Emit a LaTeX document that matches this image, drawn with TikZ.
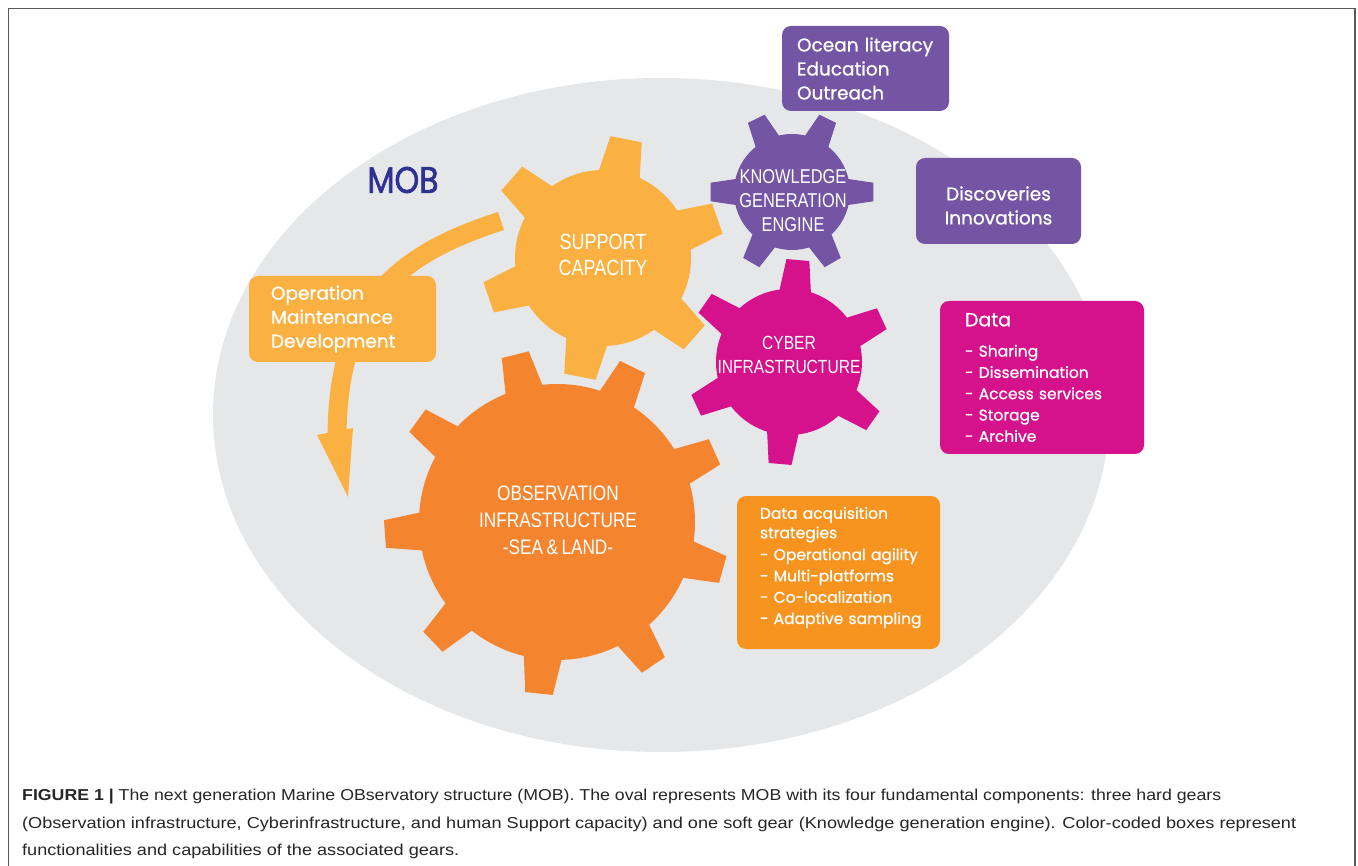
\documentclass[tikz,border=0pt]{standalone}
\usepackage{graphicx}
\usepackage{fontspec}
\setmainfont{Liberation Sans}
\newfontfamily\boxfont[FakeBold=0.8]{Poppins}
\newfontfamily\mobfont[FakeStretch=0.85, FakeBold=1.6]{Poppins}
\newfontfamily\gearfont[FakeStretch=0.82]{Liberation Sans}
\definecolor{ovalgray}{HTML}{E6E7E9}
\definecolor{mobblue}{HTML}{2E3192}
\definecolor{obsorange}{HTML}{F5842E}
\definecolor{suporange}{HTML}{FBB042}
\definecolor{cybmag}{HTML}{D5118B}
\definecolor{knowpurple}{HTML}{7455A4}
\definecolor{acqorange}{HTML}{F7941F}
\definecolor{framegray}{HTML}{5A5A5A}
% #1 cx, #2 cy, #3 inner radius, #4 outer radius, #5 tooth angles, #6 base half-angle, #7 tip half-angle, #8 colour
\newcommand{\drawgear}[8]{%
  \fill[#8] (#1,#2) circle[radius=#3];
  \foreach \ang in {#5} {
    \fill[#8] ({#1+(#3-5)*cos(\ang-#6)},{#2-(#3-5)*sin(\ang-#6)})
      -- ({#1+#4*cos(\ang-#7)},{#2-#4*sin(\ang-#7)})
      -- ({#1+#4*cos(\ang+#7)},{#2-#4*sin(\ang+#7)})
      -- ({#1+(#3-5)*cos(\ang+#6)},{#2-(#3-5)*sin(\ang+#6)}) -- cycle;
  }
}
\tikzset{
  infobox/.style={rounded corners=9pt, text=white, inner ysep=0pt, align=left},
  gearlabel/.style={text=white, align=center, inner sep=0pt},
  capline/.style={anchor=base west, inner sep=0pt, font=\fontsize{15.8}{19}\selectfont, text=black!85},
}
\begin{document}
\begin{tikzpicture}[x=1pt, y=-1pt]
\useasboundingbox (0,0) rectangle (1358,866);
\fill[white] (0,0) rectangle (1358,866);
% oval
\fill[ovalgray] (661,415) ellipse[x radius=448, y radius=337];
\node[text=mobblue, font=\mobfont\fontsize{37}{40}\selectfont, inner sep=0pt] (mob) at (403,180) {MOB};
% curved arrow of the support capacity
\coordinate (arrS) at (501,221);
\coordinate (arrE) at (337,436);
\draw[suporange, line width=19pt] (arrS) .. controls (395,255) and (338,305) .. (arrE);
\fill[suporange] (317,435) -- (353,428) -- (348,497) -- cycle;
\node[infobox, fill=suporange, text width=143pt, inner xsep=22pt, minimum height=86pt,
      font=\boxfont\fontsize{18.5}{24}\selectfont] (opbox) at (342.5,319)
  {Operation\\Maintenance\\Development};
% gears
\drawgear{557}{522}{138}{173}{104,64,24,-16,-56,-96,-136,-176,144}{8.5}{4.6}{obsorange}
\drawgear{603}{258}{88}{122}{79,19,-41,-101,-161,139}{15}{7.5}{suporange}
\drawgear{789}{362}{73}{103}{85,25,-35,-95,-155,145}{14}{6.4}{cybmag}
\drawgear{792}{192}{58}{82}{0,64,116,180,240,300}{15}{6.5}{knowpurple}
\node[gearlabel, font=\gearfont\fontsize{21}{27}\selectfont] (obsgear) at (558,520)
  {OBSERVATION\\INFRASTRUCTURE\\-SEA\,\&\,LAND-};
\node[gearlabel, font=\gearfont\fontsize{22}{26}\selectfont] (supgear) at (603,255)
  {SUPPORT\\CAPACITY};
\node[gearlabel, font=\gearfont\fontsize{19}{24}\selectfont] (cybgear) at (789,355)
  {CYBER\\INFRASTRUCTURE};
\node[gearlabel, font=\gearfont\fontsize{20}{24}\selectfont] (knowgear) at (793,201)
  {KNOWLEDGE\\GENERATION\\ENGINE};
% boxes
\node[infobox, fill=knowpurple, text width=137pt, inner xsep=15pt, minimum height=85pt,
      font=\boxfont\fontsize{18.5}{24}\selectfont] (ocean) at (865.5,68.5)
  {Ocean literacy\\Education\\Outreach};
\node[infobox, fill=knowpurple, text width=145pt, inner xsep=10pt, minimum height=86pt, align=center,
      font=\boxfont\fontsize{18.5}{24}\selectfont] (disc) at (998.5,201)
  {\rule{0pt}{23pt}Discoveries\\Innovations};
\node[infobox, fill=cybmag, text width=154pt, inner xsep=25pt, minimum height=153pt,
      font=\boxfont\fontsize{15.5}{21.3}\selectfont] (databox) at (1042,377.5)
  {{\fontsize{19}{21.3}\selectfont Data}\\[9pt]- Sharing\\- Dissemination\\- Access services\\- Storage\\- Archive};
\node[infobox, fill=acqorange, text width=157pt, inner xsep=23pt, minimum height=153pt,
      font=\boxfont\fontsize{15.5}{19.5}\selectfont] (acqbox) at (838.5,572.5)
  {\mbox{Data acquisition}\\\mbox{strategies}\\[2.3pt]\mbox{- Operational agility}\\[1.8pt]\mbox{- Multi-platforms}\\[1.8pt]\mbox{- Co-localization}\\[1.8pt]\mbox{- Adaptive sampling}\rule[-14pt]{0pt}{0pt}};
% caption
\node[capline] (cap1) at (22,800.5) {\resizebox{1199pt}{\height}{\textbf{FIGURE 1 |} The next generation Marine OBservatory structure (MOB). The oval represents MOB with its four fundamental components: three hard gears}};
\node[capline] (cap2) at (22,828) {\resizebox{1274pt}{\height}{(Observation infrastructure, Cyberinfrastructure, and human Support capacity) and one soft gear (Knowledge generation engine). Color-coded boxes represent}};
\node[capline] (cap3) at (22,855) {\resizebox{437pt}{\height}{functionalities and capabilities of the associated gears.}};
% frame
\draw[framegray, line width=1.4pt] (8.5,880) -- (8.5,8.5) -- (1355,8.5) -- (1355,880);
\end{tikzpicture}
\end{document}
